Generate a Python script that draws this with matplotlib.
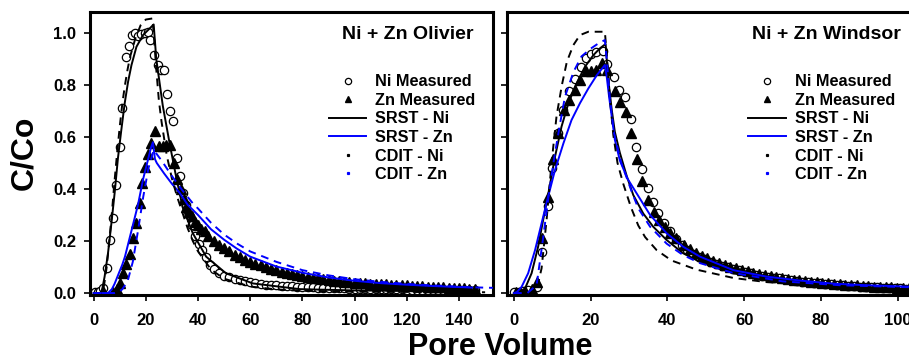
import matplotlib
matplotlib.use("Agg")
import matplotlib.pyplot as plt
from matplotlib.lines import Line2D

plt.rcParams['font.family'] = ['Liberation Sans', 'DejaVu Sans']
plt.rcParams['font.weight'] = 'bold'

# ---------------- Ni + Zn Olivier ----------------
oli_ni_pv = [0.4, 1.5, 2.5, 3.6, 5.3, 6.4, 7.4, 8.7, 10.0, 11.0, 12.3, 13.6, 14.7, 15.7, 17.0,
             18.3, 19.8, 20.8, 21.7, 23.1, 24.7, 25.7, 27.0, 28.1, 29.4, 30.5, 32.0, 33.2, 34.3,
             35.3, 36.5, 37.8, 39.0, 40.3, 41.5, 43.0, 44.5, 46, 48, 50, 52, 54, 56, 58, 60, 62,
             64, 66, 68, 70, 72, 74, 76, 78, 80, 82, 84, 86, 88, 90, 92, 94, 96, 98, 100, 102,
             104, 106, 108, 110, 112, 114, 116, 118, 120, 122, 124, 126, 128, 130, 132, 134, 136,
             138, 140, 142, 144, 146]
oli_ni_c = [0.005, 0.005, 0.006, 0.018, 0.095, 0.204, 0.29, 0.415, 0.563, 0.71, 0.909, 0.95,
            0.992, 1.001, 0.99, 0.996, 1.001, 1.005, 0.973, 0.915, 0.877, 0.858, 0.858, 0.764,
            0.70, 0.66, 0.52, 0.45, 0.386, 0.34, 0.30, 0.26, 0.22, 0.19, 0.165, 0.14, 0.108,
            0.092, 0.078, 0.067, 0.06, 0.055, 0.05, 0.045, 0.041, 0.037, 0.034, 0.032, 0.03,
            0.029, 0.028, 0.027, 0.026, 0.025, 0.024, 0.023, 0.022, 0.021, 0.02, 0.019, 0.019,
            0.018, 0.018, 0.017, 0.017, 0.016, 0.016, 0.016, 0.015, 0.015, 0.015, 0.014, 0.014,
            0.014, 0.013, 0.013, 0.013, 0.012, 0.012, 0.012, 0.011, 0.011, 0.011, 0.011, 0.01,
            0.01, 0.01, 0.01]

oli_zn_pv = [3.6, 7.5, 9.1, 10.0, 11.3, 12.5, 13.8, 15.1, 16.4, 17.7, 18.7, 19.8, 20.8, 21.9,
             23.4, 25.1, 26.6, 27.9, 29.2, 30.8, 32.0, 33.3, 34.5, 35.5, 36.5, 37.5, 38.7, 40.0,
             41.3, 42.5, 44, 46, 48, 50, 52, 54, 56, 58, 60, 62, 64, 66, 68, 70, 72, 74, 76, 78,
             80, 82, 84, 86, 88, 90, 92, 94, 96, 98, 100, 102, 104, 106, 108, 110, 112, 114, 116,
             118, 120, 122, 124, 126, 128, 130, 132, 134, 136, 138, 140, 142, 144, 146]
oli_zn_c = [0.008, 0.005, 0.014, 0.04, 0.076, 0.11, 0.15, 0.213, 0.268, 0.347, 0.422, 0.486,
            0.535, 0.578, 0.624, 0.565, 0.565, 0.57, 0.57, 0.50, 0.44, 0.40, 0.36, 0.33, 0.31,
            0.295, 0.275, 0.26, 0.248, 0.237, 0.22, 0.2, 0.185, 0.172, 0.16, 0.148, 0.138, 0.128,
            0.12, 0.113, 0.106, 0.099, 0.093, 0.087, 0.082, 0.077, 0.073, 0.069, 0.065, 0.062,
            0.059, 0.056, 0.053, 0.05, 0.048, 0.046, 0.044, 0.042, 0.04, 0.038, 0.037, 0.036,
            0.035, 0.034, 0.033, 0.032, 0.031, 0.03, 0.029, 0.028, 0.027, 0.026, 0.025, 0.024,
            0.023, 0.022, 0.021, 0.02, 0.019, 0.018, 0.017, 0.016]

oli_srst_ni_pv = [0, 3, 4.2, 5.5, 6.8, 8.1, 9.3, 10.6, 11.9, 13.2, 14.5, 16.4, 18.9, 21.5, 23.0,
                  24.0, 26.5, 29.1, 31.6, 34.1, 38.0, 43.1, 50.7, 61, 79, 100, 120, 145]
oli_srst_ni_c = [0, 0, 0.063, 0.153, 0.268, 0.39, 0.518, 0.627, 0.73, 0.813, 0.877, 0.947,
                 0.992, 1.018, 1.033, 0.9, 0.72, 0.576, 0.447, 0.33, 0.23, 0.14, 0.076, 0.037,
                 0.015, 0.01, 0.008, 0.006]

oli_srst_zn_pv = [0, 5.5, 7, 8, 9, 10, 11, 12, 13, 14, 15, 16, 17, 18, 19, 20, 21, 22, 22.7,
                  23.5, 24.2, 27, 30, 33, 36, 40, 45, 50, 55, 60, 70, 80, 90, 100, 110, 120,
                  130, 145]
oli_srst_zn_c = [0, 0, 0.015, 0.035, 0.06, 0.085, 0.11, 0.14, 0.18, 0.22, 0.26, 0.30, 0.34,
                 0.39, 0.44, 0.48, 0.52, 0.56, 0.58, 0.515, 0.50, 0.46, 0.42, 0.385, 0.34, 0.30,
                 0.245, 0.205, 0.17, 0.14, 0.102, 0.078, 0.06, 0.047, 0.038, 0.032, 0.027, 0.021]

oli_cdit_ni_pv = [0, 3, 4, 5, 6, 7, 8, 9, 10, 11, 12, 13, 14, 16, 18, 20, 22.5, 23, 24, 25, 26,
                  28, 30, 32, 34, 36, 38, 40, 45, 50, 60, 70, 80, 100, 150]
oli_cdit_ni_c = [0, 0, 0.03, 0.1, 0.2, 0.31, 0.43, 0.54, 0.64, 0.73, 0.8, 0.86, 0.91, 0.98,
                 1.03, 1.052, 1.056, 1.0, 0.86, 0.74, 0.66, 0.53, 0.44, 0.37, 0.31, 0.25, 0.20,
                 0.16, 0.09, 0.055, 0.025, 0.014, 0.009, 0.005, 0.003]

oli_cdit_zn_pv = [0, 8, 10, 11, 12, 13, 15, 17, 19, 21, 23, 24.5, 26, 30, 34, 38, 40, 45, 50,
                  55, 60, 70, 80, 90, 100, 110, 120, 130, 145, 153]
oli_cdit_zn_c = [0, 0, 0.005, 0.015, 0.03, 0.045, 0.12, 0.24, 0.37, 0.48, 0.55, 0.53, 0.51,
                 0.45, 0.395, 0.345, 0.325, 0.27, 0.225, 0.19, 0.16, 0.12, 0.088, 0.068, 0.053,
                 0.043, 0.035, 0.029, 0.022, 0.02]

# ---------------- Ni + Zn Windsor ----------------
win_ni_pv = [0.0, 1.2, 2.4, 3.6, 5.9, 7.2, 8.8, 9.8, 11.6, 12.9, 14.4, 15.9, 17.4, 18.7, 20.1,
             21.3, 23.1, 24.2, 26.2, 27.5, 29.0, 30.5, 31.8, 33.3, 34.9, 36.3, 37.6, 39.2, 40.7,
             42.2, 43.7, 45.2, 46.7, 48.2, 49.7, 51.2, 52.7, 54.2, 55.7, 57.2, 58.7, 60.2, 61.7,
             63.2, 64.7, 66.2, 67.7, 69.2, 70.7, 72.2, 73.7, 75.2, 76.7, 78.2, 79.7, 81.2, 82.7,
             84.2, 85.7, 87.2, 88.7, 90.2, 91.7, 93.2, 94.7, 96.2, 97.7, 99.2, 100.7, 102.2]
win_ni_c = [0.005, 0.005, 0.008, 0.01, 0.024, 0.159, 0.336, 0.482, 0.617, 0.704, 0.777, 0.823,
            0.868, 0.903, 0.918, 0.928, 0.932, 0.88, 0.83, 0.78, 0.755, 0.67, 0.563, 0.476,
            0.403, 0.349, 0.309, 0.27, 0.238, 0.206, 0.185, 0.167, 0.152, 0.14, 0.13, 0.12,
            0.112, 0.105, 0.099, 0.093, 0.087, 0.081, 0.076, 0.071, 0.067, 0.063, 0.059, 0.056,
            0.053, 0.05, 0.047, 0.044, 0.042, 0.04, 0.038, 0.036, 0.034, 0.032, 0.03, 0.028,
            0.027, 0.025, 0.024, 0.023, 0.022, 0.021, 0.02, 0.019, 0.018, 0.017]

win_zn_pv = [0.5, 1.7, 3.0, 4.7, 5.9, 7.4, 8.8, 10.1, 11.6, 13.1, 14.4, 15.9, 17.3, 18.7, 20.1,
             21.3, 22.9, 24.2, 26.3, 27.6, 29.1, 30.5, 32.0, 33.4, 34.9, 36.4, 37.9, 39.3, 40.8,
             42.3, 44.4, 45.9, 47.4, 48.9, 50.4, 51.9, 53.4, 54.9, 56.4, 57.9, 59.4, 60.9, 62.4,
             63.9, 65.4, 66.9, 68.4, 69.9, 71.4, 72.9, 74.4, 75.9, 77.4, 78.9, 80.4, 81.9, 83.4,
             84.9, 86.4, 87.9, 89.4, 90.9, 92.4, 93.9, 95.4, 96.9, 98.4, 99.9, 101.4, 102.9]
win_zn_c = [0.005, 0.005, 0.008, 0.015, 0.043, 0.21, 0.37, 0.515, 0.617, 0.704, 0.742, 0.781,
            0.819, 0.854, 0.854, 0.858, 0.883, 0.858, 0.777, 0.736, 0.697, 0.614, 0.515, 0.43,
            0.358, 0.31, 0.28, 0.253, 0.23, 0.21, 0.183, 0.168, 0.155, 0.143, 0.133, 0.124,
            0.116, 0.108, 0.101, 0.095, 0.089, 0.083, 0.078, 0.073, 0.069, 0.065, 0.061, 0.058,
            0.055, 0.052, 0.049, 0.046, 0.044, 0.042, 0.04, 0.038, 0.036, 0.034, 0.032, 0.031,
            0.029, 0.028, 0.026, 0.025, 0.024, 0.023, 0.022, 0.021, 0.02, 0.019]

win_srst_ni_pv = [0, 1.3, 2.9, 4.6, 6.3, 7.6, 8.9, 10.7, 12.4, 14.2, 16.3, 18.5, 20.7, 22.4,
                  23.9, 24.2, 24.8, 25.5, 26.3, 27.6, 29.4, 31.1, 33.7, 36.3, 39.8, 44.1, 48.5,
                  57.2, 65.9, 74.6, 83.3, 92, 104]
win_srst_ni_c = [0, 0.002, 0.018, 0.076, 0.178, 0.28, 0.377, 0.524, 0.64, 0.73, 0.806, 0.87,
                 0.915, 0.941, 0.958, 0.896, 0.794, 0.704, 0.62, 0.54, 0.45, 0.377, 0.306,
                 0.255, 0.204, 0.153, 0.12, 0.076, 0.05, 0.035, 0.025, 0.019, 0.014]

win_srst_zn_pv = [0, 0.8, 2.0, 3.7, 5.5, 7.2, 8.9, 10.7, 12.9, 15.0, 17.2, 19.4, 21.6, 23.7,
                  24.2, 24.8, 25.5, 26.3, 27.6, 29.6, 32, 35.5, 39.8, 44.1, 48.5, 57.2, 65.9,
                  74.6, 83.3, 92, 104]
win_srst_zn_c = [0, 0.004, 0.024, 0.076, 0.165, 0.268, 0.37, 0.473, 0.576, 0.665, 0.73, 0.787,
                 0.838, 0.877, 0.83, 0.755, 0.678, 0.59, 0.51, 0.44, 0.383, 0.3, 0.23, 0.178,
                 0.14, 0.088, 0.063, 0.048, 0.036, 0.03, 0.024]

win_cdit_ni_pv = [0, 4.5, 5.9, 7.2, 8.5, 9.8, 11.1, 12.5, 13.8, 15.5, 17.2, 19.4, 23.7, 24.3,
                  25.0, 25.9, 27.0, 28.5, 30.5, 32.4, 34.2, 37.2, 41.1, 47.6, 57.2, 65.9, 74.6,
                  85, 104]
win_cdit_ni_c = [0, 0, 0.01, 0.095, 0.28, 0.5, 0.68, 0.8, 0.89, 0.954, 0.992, 1.005, 1.005,
                 0.9, 0.75, 0.608, 0.5, 0.42, 0.33, 0.26, 0.215, 0.165, 0.125, 0.09, 0.058,
                 0.042, 0.033, 0.025, 0.016]

win_cdit_zn_pv = [0, 3.5, 5.9, 7.5, 9.0, 10.5, 12.0, 13.3, 15.5, 17.6, 20, 22, 23.7, 24.3, 25,
                  26, 28, 30.7, 32.4, 35.5, 39.8, 44.1, 48.5, 57.2, 70, 85, 104]
win_cdit_zn_c = [0, 0, 0.03, 0.2, 0.37, 0.52, 0.65, 0.755, 0.85, 0.91, 0.94, 0.96, 0.973, 0.88,
                 0.75, 0.62, 0.5, 0.39, 0.326, 0.255, 0.19, 0.146, 0.115, 0.077, 0.045, 0.03,
                 0.022]

panels = [
    ("Ni + Zn Olivier", oli_ni_pv, oli_ni_c, oli_zn_pv, oli_zn_c,
     oli_srst_ni_pv, oli_srst_ni_c, oli_srst_zn_pv, oli_srst_zn_c,
     oli_cdit_ni_pv, oli_cdit_ni_c, oli_cdit_zn_pv, oli_cdit_zn_c,
     (-1.4, 153), [0, 20, 40, 60, 80, 100, 120, 140], 0.625, 0.593, True),
    ("Ni + Zn Windsor", win_ni_pv, win_ni_c, win_zn_pv, win_zn_c,
     win_srst_ni_pv, win_srst_ni_c, win_srst_zn_pv, win_srst_zn_c,
     win_cdit_ni_pv, win_cdit_ni_c, win_cdit_zn_pv, win_cdit_zn_c,
     (-1.8, 103.5), [0, 20, 40, 60, 80, 100], 0.606, 0.597, False),
]

fig = plt.figure(figsize=(9.09, 3.63), dpi=100)
ax_pos = [[0.099, 0.187, 0.4433, 0.78], [0.5578, 0.187, 0.4444, 0.78]]

blue = '#0000ff'
for pos, p in zip(ax_pos, panels):
    (title, nx, ny, zx, zy, snx, sny, szx, szy, cnx, cny, czx, czy,
     xlim, xt, tx, lx, ylab) = p
    ax = fig.add_axes(pos)
    ax.plot(nx, ny, 'o', mfc='white', mec='black', ms=6, mew=0.9, zorder=2)
    ax.plot(zx, zy, '^', color='black', ms=6.5, zorder=2)
    ax.plot(snx, sny, '-', color='black', lw=1.4, zorder=3)
    ax.plot(szx, szy, '-', color=blue, lw=1.4, zorder=3)
    ax.plot(cnx, cny, color='black', lw=1.4, ls=(0, (4, 3)), zorder=3)
    ax.plot(czx, czy, color=blue, lw=1.4, ls=(0, (4, 3)), zorder=3)

    ax.set_xlim(*xlim)
    ax.set_ylim(-0.008, 1.081)
    ax.set_xticks(xt)
    ax.set_yticks([0, 0.2, 0.4, 0.6, 0.8, 1.0])
    if ylab:
        ax.set_yticklabels(['0.0', '0.2', '0.4', '0.6', '0.8', '1.0'])
    else:
        ax.set_yticklabels([])
    for s in ax.spines.values():
        s.set_linewidth(2.2)
    ax.tick_params(direction='out', length=4, width=1.2, labelsize=12)
    ax.tick_params(axis='x', pad=9)
    ax.tick_params(axis='y', pad=6)
    for lab in ax.get_xticklabels() + ax.get_yticklabels():
        lab.set_fontweight('bold')

    ax.text(tx, 0.922, title, transform=ax.transAxes, fontsize=14,
            fontweight='bold', ha='left', va='center')

    handles = [
        Line2D([], [], ls='none', marker='o', mfc='white', mec='black', ms=4.5, mew=0.9),
        Line2D([], [], ls='none', marker='^', color='black', ms=5),
        Line2D([], [], color='black', lw=1.4),
        Line2D([], [], color=blue, lw=1.4),
        Line2D([], [], ls='none', marker='s', color='black', ms=1.3),
        Line2D([], [], ls='none', marker='s', color=blue, ms=1.3),
    ]
    labels = ['Ni Measured', 'Zn Measured', 'SRST - Ni', 'SRST - Zn', 'CDIT - Ni', 'CDIT - Zn']
    leg = ax.legend(handles, labels, loc='upper left', bbox_to_anchor=(lx, 0.78),
                    frameon=False, fontsize=11.7, handlelength=2.3, handletextpad=0.55,
                    labelspacing=0.22, borderpad=0, borderaxespad=0)
    for t in leg.get_texts():
        t.set_fontweight('bold')

fig.text(0.027, 0.58, 'C/Co', rotation=90, fontsize=23, fontweight='bold',
         ha='center', va='center')
fig.text(0.55, 0.045, 'Pore Volume', fontsize=22, fontweight='bold',
         ha='center', va='center')

fig.savefig('out.png', dpi=100)
